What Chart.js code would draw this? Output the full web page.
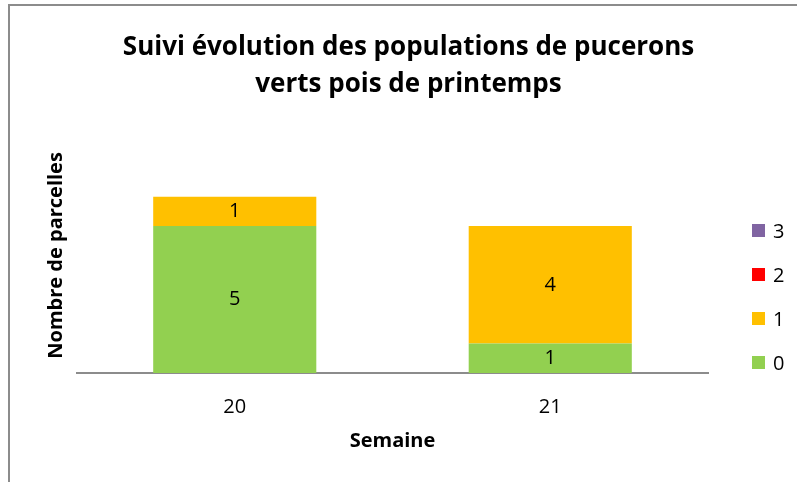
<!DOCTYPE html>
<html>
<head>
<meta charset="utf-8">
<script src="https://cdn.jsdelivr.net/npm/chart.js@4"></script>
<style>
  html, body { margin: 0; padding: 0; background: #fff; }
  #wrap { position: relative; width: 797px; height: 482px; font-family: 'Open Sans', sans-serif; }
  #frame { position: absolute; left: 8px; top: 4px; right: 0; bottom: 0; border-top: 2px solid #8c8c8c; border-left: 2px solid #8c8c8c; }
  canvas { position: absolute; left: 0; top: 0; }
  #legende { position: absolute; left: 752px; top: 220px; display: flex; flex-direction: column; gap: 24px; }
  #legende div { display: flex; align-items: center; height: 20px; font-size: 20px; color: #000; }
  #legende span { display: inline-block; width: 13px; height: 13px; margin-right: 8px; }
</style>
</head>
<body>
<div id="wrap">
  <div id="frame"></div>
  <canvas id="chart" width="797" height="482"></canvas>
  <div id="legende"></div>
</div>
<script>
const semaines = ["20", "21"];
const classe0 = [5, 1];
const classe1 = [1, 4];
const classe2 = [0, 0];
const classe3 = [0, 0];
const classes = ["0", "1", "2", "3"];
const couleurs = ["#92D050", "#FFC000", "#FF0000", "#8064A2"];

const FONT = "'Open Sans', sans-serif";

// valeurs au centre de chaque segment
const barLabels = {
  id: "barLabels",
  afterDatasetsDraw(chart) {
    const ctx = chart.ctx;
    ctx.save();
    ctx.font = "20px " + FONT;
    ctx.fillStyle = "#000";
    ctx.textAlign = "center";
    ctx.textBaseline = "middle";
    chart.data.datasets.forEach((ds, i) => {
      const meta = chart.getDatasetMeta(i);
      meta.data.forEach((bar, j) => {
        const v = ds.data[j];
        if (!v) return;
        ctx.fillText(String(v), bar.x, (bar.y + bar.base) / 2);
      });
    });
    ctx.restore();
  }
};

const allSeries = [classe0, classe1, classe2, classe3];

const chart = new Chart(document.getElementById("chart"), {
  type: "bar",
  data: {
    labels: semaines,
    datasets: allSeries.map((vals, i) => ({
      label: classes[i],
      data: vals,
      backgroundColor: couleurs[i],
      borderWidth: 0,
      categoryPercentage: 1,
      barPercentage: 0.517
    }))
  },
  plugins: [barLabels],
  options: {
    responsive: false,
    animation: false,
    layout: { padding: { left: 30, right: 10, top: 0, bottom: 25 } },
    plugins: {
      tooltip: { enabled: false },
      legend: { display: false },
      title: {
        display: true,
        text: ["Suivi évolution des populations de pucerons", "verts pois de printemps"],
        color: "#000",
        font: { family: FONT, size: 26, weight: "bold", lineHeight: 1.42 },
        padding: { top: 29.5, bottom: 34.5 }
      }
    },
    scales: {
      x: {
        stacked: true,
        grid: { display: false, drawTicks: false },
        border: { display: true, color: "#8c8c8c", width: 2 },
        ticks: { color: "#000", padding: 22, font: { family: FONT, size: 20 } },
        title: {
          display: true,
          text: "Semaine",
          color: "#000",
          font: { family: FONT, size: 20, weight: "bold" },
          padding: { top: 10, bottom: 4 }
        },
        afterFit(s) { s.height = 84; }
      },
      y: {
        stacked: true,
        min: 0,
        max: 8,
        grid: { display: false, drawTicks: false },
        border: { display: false },
        ticks: { display: false },
        title: {
          display: true,
          text: "Nombre de parcelles",
          color: "#000",
          font: { family: FONT, size: 20, weight: "bold" },
          padding: { top: 14, bottom: 9 }
        }
      },
      // place laissée à la légende (HTML) à droite du graphique
      legendSpace: {
        position: "right",
        grid: { display: false, drawTicks: false },
        border: { display: false },
        ticks: { display: false },
        afterFit(s) { s.width = 79; }
      }
    }
  }
});

// légende à droite, ordre inversé comme dans Excel
const legende = document.getElementById("legende");
classes.slice().reverse().forEach(c => {
  const i = classes.indexOf(c);
  const item = document.createElement("div");
  item.innerHTML = `<span style="background:${couleurs[i]}"></span>${c}`;
  legende.appendChild(item);
});
</script>
</body>
</html>
